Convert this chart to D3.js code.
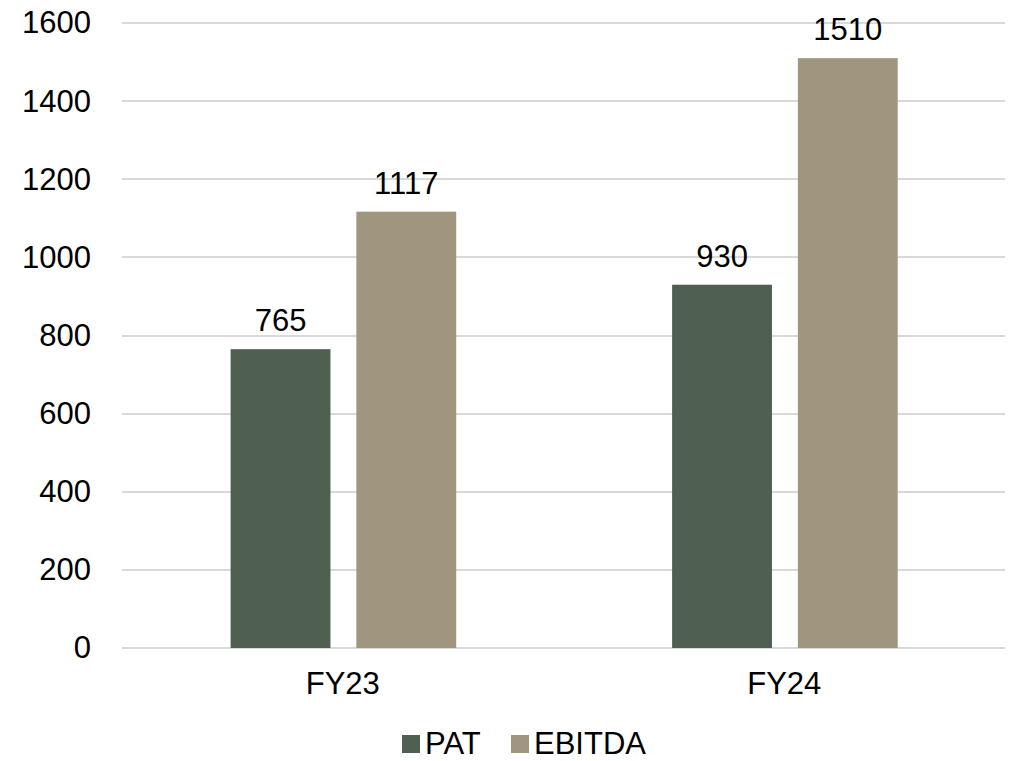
<!DOCTYPE html>
<html>
<head>
<meta charset="utf-8">
<script src="https://cdn.jsdelivr.net/npm/d3@7"></script>
<style>
  html, body { margin: 0; padding: 0; background: #fff; }
  svg { display: block; font-family: "Liberation Sans", Arial, sans-serif; }
</style>
</head>
<body>
<svg id="chart" width="1010" height="761"></svg>
<script>
const categories = ["FY23", "FY24"];
const seriesNames = ["PAT", "EBITDA"];
const patValues = [765, 930];
const ebitdaValues = [1117, 1510];
const yTicks = [0, 200, 400, 600, 800, 1000, 1200, 1400, 1600];
const colors = ["#4f6052", "#a0957e"];

const FONT = 31;
const seriesValues = [patValues, ebitdaValues];
const rows = categories.map((c, i) => ({
  category: c,
  values: seriesNames.map((s, j) => ({ series: s, value: seriesValues[j][i], color: colors[j] }))
}));

const svg = d3.select("#chart");
const plotLeft = 122, plotRight = 1005, plotTop = 23, plotBottom = 648;

const y = d3.scaleLinear().domain([0, 1600]).range([plotBottom, plotTop]);
const x0 = d3.scaleBand().domain(categories).range([plotLeft, plotRight]).padding(0);
const bw = x0.bandwidth();
const x1 = d3.scaleBand().domain(seriesNames)
  .range([bw * 0.246, bw * 0.757]).paddingInner(0.206).paddingOuter(0);

// horizontal gridlines
svg.append("g")
  .selectAll("line")
  .data(yTicks)
  .join("line")
  .attr("x1", plotLeft).attr("x2", plotRight)
  .attr("y1", d => Math.round(y(d)))
  .attr("y2", d => Math.round(y(d)))
  .attr("stroke", "#d9d9d9")
  .attr("stroke-width", 2);

// y axis labels
const yAxis = d3.axisLeft(y).tickValues(yTicks).tickFormat(d3.format("d"))
  .tickSize(0).tickPadding(0);
const yg = svg.append("g").attr("transform", "translate(91,0)").call(yAxis);
yg.select(".domain").remove();
yg.selectAll("text")
  .attr("font-size", FONT)
  .attr("fill", "#000")
  .attr("font-family", "Liberation Sans, Arial, sans-serif");

// bars
const groups = svg.append("g")
  .selectAll("g")
  .data(rows)
  .join("g")
  .attr("transform", d => `translate(${x0(d.category)},0)`);

groups.selectAll("rect")
  .data(d => d.values)
  .join("rect")
  .attr("x", d => x1(d.series))
  .attr("width", x1.bandwidth())
  .attr("y", d => y(d.value))
  .attr("height", d => y(0) - y(d.value))
  .attr("fill", d => d.color);

// value labels
groups.selectAll("text.val")
  .data(d => d.values)
  .join("text")
  .attr("class", "val")
  .attr("x", d => x1(d.series) + x1.bandwidth() / 2)
  .attr("y", d => y(d.value) - 18)
  .attr("text-anchor", "middle")
  .attr("font-size", FONT)
  .attr("fill", "#000")
  .text(d => d.value);

// category axis labels
const xAxis = d3.axisBottom(x0).tickSize(0).tickPadding(0);
const xg = svg.append("g").attr("transform", `translate(0,${plotBottom + 24})`).call(xAxis);
xg.select(".domain").remove();
xg.selectAll("text")
  .attr("font-size", FONT)
  .attr("fill", "#000")
  .attr("font-family", "Liberation Sans, Arial, sans-serif");

// legend
const legendX = [402, 511];
const legend = svg.append("g")
  .selectAll("g")
  .data(seriesNames)
  .join("g")
  .attr("transform", (d, i) => `translate(${legendX[i]},735)`);
legend.append("rect")
  .attr("width", 18).attr("height", 18)
  .attr("fill", (d, i) => colors[i]);
legend.append("text")
  .attr("x", 23).attr("y", 19)
  .attr("font-size", FONT)
  .attr("fill", "#000")
  .text(d => d);
</script>
</body>
</html>
